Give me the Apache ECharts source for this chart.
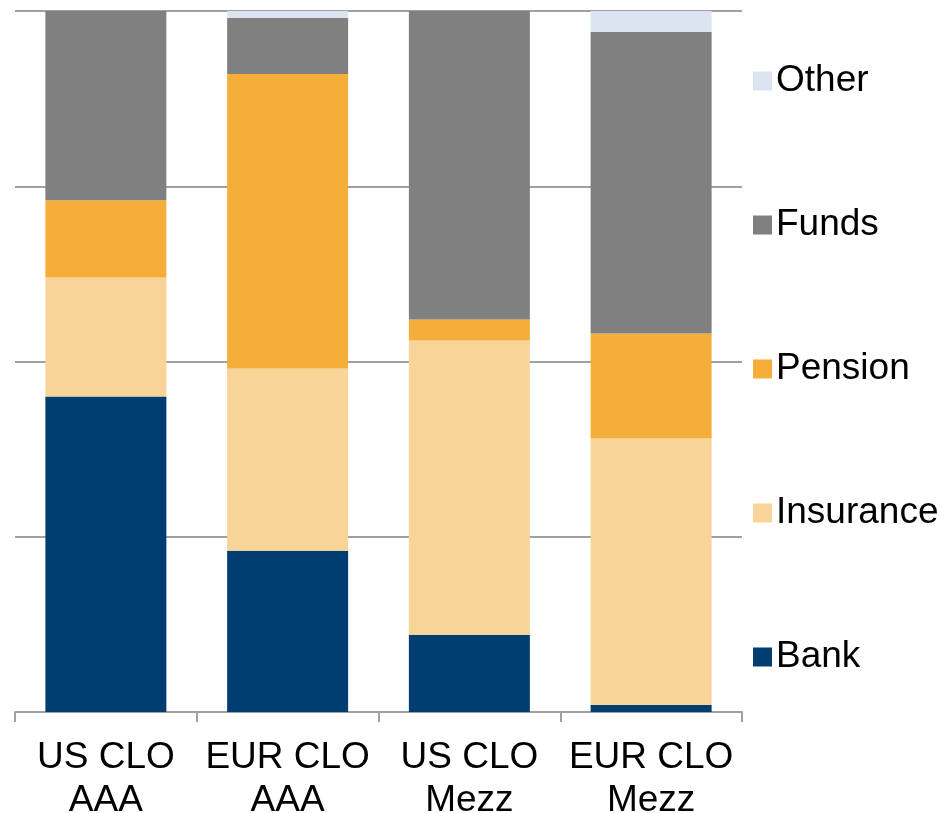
<!DOCTYPE html>
<html>
<head>
<meta charset="utf-8">
<script src="https://cdn.jsdelivr.net/npm/echarts@6/dist/echarts.min.js"></script>
<style>
  html, body { margin: 0; padding: 0; background: #fff; }
  #mChart { width: 941px; height: 813px; }
</style>
</head>
<body>
<div id="mChart"></div>
<script>
// categories
var categories = ['US CLO\nAAA', 'EUR CLO\nAAA', 'US CLO\nMezz', 'EUR CLO\nMezz'];
// investor share, %
var bank      = [45, 23, 11, 1];
var insurance = [17, 26, 42, 38];
var pension   = [11, 42, 3, 15];
var funds     = [27, 8, 44, 43];
var other     = [0, 1, 0, 3];

var colors = {
  Bank: '#003d70',
  Insurance: '#f8d499',
  Pension: '#f5ae3a',
  Funds: '#808080',
  Other: '#dce5ef'
};

function makeSeries(name, data) {
  return {
    name: name,
    type: 'bar',
    stack: 'total',
    barWidth: 121,
    itemStyle: { color: colors[name] },
    data: data
  };
}

var myChart = echarts.init(document.getElementById('mChart'));
myChart.setOption({
  animation: false,
  textStyle: { fontFamily: 'Liberation Sans, Arial, sans-serif' },
  grid: { left: 15, right: 199, top: 11, bottom: 101, outerBoundsMode: 'none', containLabel: false },
  legend: {
    orient: 'vertical',
    left: 748,
    top: 56,
    itemWidth: 19,
    itemHeight: 19,
    itemGap: 104,
    icon: 'rect',
    data: ['Other', 'Funds', 'Pension', 'Insurance', 'Bank'],
    textStyle: { fontSize: 37, color: '#000', lineHeight: 40, padding: [0, 0, 0, -1] }
  },
  xAxis: {
    type: 'category',
    data: categories,
    axisLine: { lineStyle: { color: '#a0a0a0', width: 2 } },
    axisTick: { show: true, interval: 0, length: 10, lineStyle: { color: '#a0a0a0', width: 2 } },
    axisLabel: { interval: 0, fontSize: 37, color: '#000', lineHeight: 43, margin: 24 }
  },
  yAxis: {
    type: 'value',
    min: 0,
    max: 100,
    interval: 25,
    axisLabel: { show: false },
    axisLine: { show: false },
    axisTick: { show: false },
    splitLine: { lineStyle: { color: '#a0a0a0', width: 2 } }
  },
  series: [
    makeSeries('Bank', bank),
    makeSeries('Insurance', insurance),
    makeSeries('Pension', pension),
    makeSeries('Funds', funds),
    makeSeries('Other', other)
  ]
});
</script>
</body>
</html>
